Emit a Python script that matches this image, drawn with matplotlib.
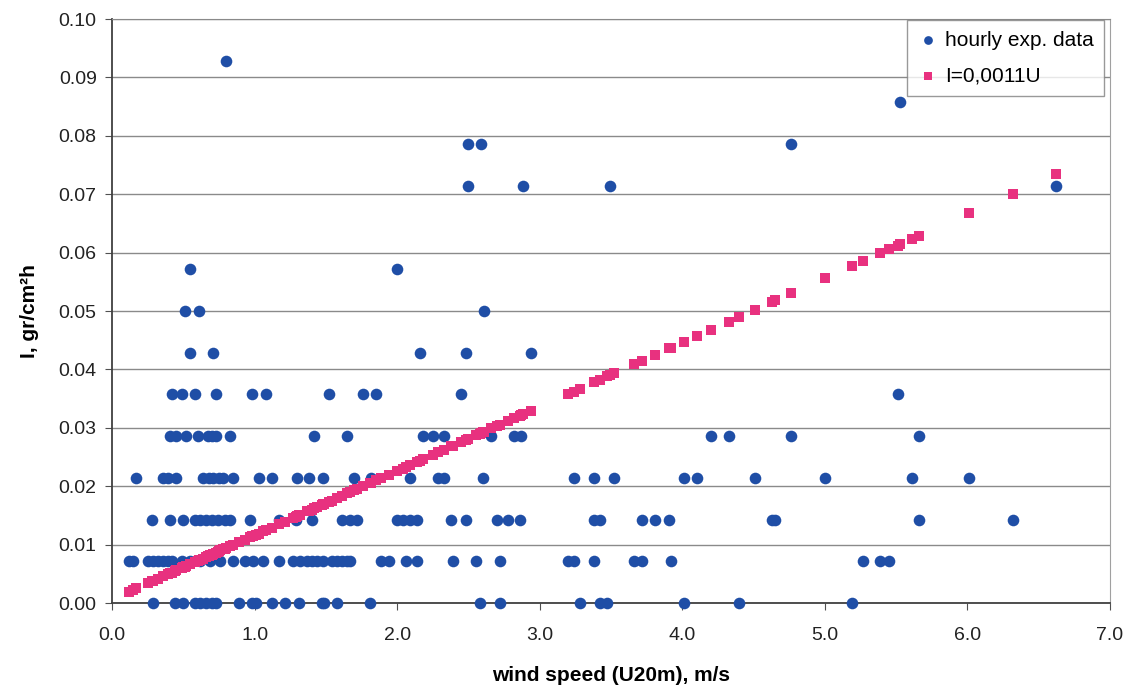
import matplotlib.pyplot as plt
from matplotlib.ticker import FormatStrFormatter, MultipleLocator

plt.rcParams['font.family'] = ['Liberation Sans', 'DejaVu Sans']

# hourly measured intensity levels (gr/cm2h) and the wind speeds observed at each level
levels = [0.0, 0.00714, 0.01429, 0.02143, 0.02857, 0.03571, 0.04286,
          0.05, 0.05714, 0.07143, 0.07857, 0.08571, 0.09286]
u_by_level = [
    [0.29, 0.44, 0.50, 0.58, 0.62, 0.66, 0.70, 0.73, 0.89, 0.98, 1.01, 1.12, 1.21,
     1.31, 1.47, 1.49, 1.58, 1.81, 2.58, 2.72, 3.28, 3.42, 3.47, 4.01, 4.40, 5.19],
    [0.12, 0.15, 0.25, 0.29, 0.32, 0.36, 0.39, 0.42, 0.49, 0.55, 0.62, 0.69, 0.76,
     0.85, 0.93, 0.99, 1.06, 1.17, 1.27, 1.32, 1.37, 1.40, 1.44, 1.48, 1.54, 1.58,
     1.61, 1.65, 1.67, 1.89, 1.94, 2.06, 2.14, 2.39, 2.55, 2.72, 3.20, 3.24, 3.38,
     3.66, 3.72, 3.92, 5.27, 5.39, 5.45],
    [0.28, 0.41, 0.50, 0.58, 0.62, 0.66, 0.70, 0.74, 0.79, 0.83, 0.97, 1.17, 1.29,
     1.40, 1.61, 1.67, 1.72, 2.00, 2.04, 2.09, 2.14, 2.38, 2.48, 2.70, 2.78, 2.86,
     3.38, 3.42, 3.72, 3.81, 3.91, 4.63, 4.65, 5.66, 6.32],
    [0.17, 0.36, 0.39, 0.45, 0.64, 0.68, 0.71, 0.75, 0.78, 0.85, 1.03, 1.12, 1.30,
     1.38, 1.48, 1.70, 1.82, 2.09, 2.29, 2.33, 2.60, 3.24, 3.38, 3.52, 4.01, 4.10,
     4.51, 5.00, 5.61, 6.01],
    [0.41, 0.45, 0.52, 0.60, 0.67, 0.70, 0.73, 0.83, 1.42, 1.65, 2.18, 2.25, 2.33,
     2.66, 2.82, 2.87, 4.20, 4.33, 4.76, 5.66],
    [0.42, 0.49, 0.58, 0.73, 0.98, 1.08, 1.52, 1.76, 1.85, 2.45, 5.51],
    [0.55, 0.71, 2.16, 2.48, 2.94],
    [0.51, 0.61, 2.61],
    [0.55, 2.00],
    [2.50, 2.88, 3.49, 6.62],
    [2.50, 2.59, 4.76],
    [5.53],
    [0.80],
]

# fitted values I=0,0011U (pink squares)
fit_u = [0.12, 0.15, 0.17, 0.25, 0.28, 0.29, 0.32, 0.36, 0.39, 0.41, 0.42, 0.44, 0.45,
         0.49, 0.50, 0.51, 0.52, 0.55, 0.58, 0.60, 0.61, 0.62, 0.64, 0.66, 0.67, 0.68,
         0.69, 0.70, 0.71, 0.73, 0.74, 0.75, 0.76, 0.78, 0.79, 0.80, 0.83, 0.85, 0.89,
         0.93, 0.97, 0.98, 0.99, 1.01, 1.03, 1.06, 1.08, 1.12, 1.17, 1.21, 1.27, 1.29,
         1.30, 1.31, 1.32, 1.37, 1.38, 1.40, 1.42, 1.44, 1.47, 1.48, 1.49, 1.52, 1.54,
         1.58, 1.61, 1.65, 1.67, 1.70, 1.72, 1.76, 1.81, 1.82, 1.85, 1.89, 1.94, 2.00,
         2.04, 2.06, 2.09, 2.14, 2.16, 2.18, 2.25, 2.29, 2.33, 2.38, 2.39, 2.45, 2.48,
         2.50, 2.55, 2.58, 2.59, 2.60, 2.61, 2.66, 2.70, 2.72, 2.78, 2.82, 2.86, 2.87,
         2.88, 2.94,
         3.20, 3.24, 3.28, 3.38, 3.42, 3.47, 3.49, 3.52, 3.66, 3.72, 3.81, 3.91, 3.92,
         4.01, 4.10, 4.20, 4.33, 4.40, 4.51, 4.63, 4.65, 4.76, 5.00, 5.19, 5.27, 5.39,
         5.45, 5.51, 5.53, 5.61, 5.66, 6.01, 6.32, 6.62]
fit_i = [0.0019, 0.0022, 0.0025, 0.0034, 0.0037, 0.0038, 0.0041, 0.0046, 0.0049, 0.0051,
         0.0052, 0.0054, 0.0056, 0.0060, 0.0061, 0.0062, 0.0063, 0.0067, 0.0070, 0.0072,
         0.0073, 0.0074, 0.0076, 0.0079, 0.0080, 0.0081, 0.0082, 0.0083, 0.0084, 0.0086,
         0.0087, 0.0089, 0.0090, 0.0092, 0.0093, 0.0094, 0.0097, 0.0100, 0.0104, 0.0108,
         0.0113, 0.0114, 0.0115, 0.0117, 0.0119, 0.0123, 0.0125, 0.0129, 0.0135, 0.0139,
         0.0146, 0.0148, 0.0149, 0.0150, 0.0151, 0.0157, 0.0158, 0.0160, 0.0162, 0.0164,
         0.0168, 0.0169, 0.0170, 0.0173, 0.0175, 0.0180, 0.0183, 0.0188, 0.0190, 0.0193,
         0.0195, 0.0200, 0.0205, 0.0206, 0.0210, 0.0214, 0.0219, 0.0226, 0.0230, 0.0233,
         0.0236, 0.0241, 0.0244, 0.0246, 0.0254, 0.0258, 0.0262, 0.0268, 0.0269, 0.0276,
         0.0279, 0.0281, 0.0287, 0.0290, 0.0291, 0.0292, 0.0293, 0.0299, 0.0303, 0.0305,
         0.0312, 0.0316, 0.0321, 0.0322, 0.0323, 0.0329,
         0.0358, 0.0362, 0.0367, 0.0378, 0.0382, 0.0388, 0.0390, 0.0393, 0.0409, 0.0415,
         0.0425, 0.0436, 0.0437, 0.0447, 0.0457, 0.0468, 0.0482, 0.0490, 0.0502, 0.0515,
         0.0518, 0.0530, 0.0556, 0.0577, 0.0586, 0.0599, 0.0606, 0.0612, 0.0614, 0.0623,
         0.0629, 0.0667, 0.0701, 0.0734]

blue = '#1f4ea6'
pink = '#e8317f'

hourly_u = []
hourly_i = []
for level, us in zip(levels, u_by_level):
    for u in us:
        hourly_u.append(u)
        hourly_i.append(level)

fig = plt.figure(figsize=(11.32, 6.92), dpi=100)
ax = fig.add_axes([112 / 1132, 1 - 603 / 692, 998 / 1132, 584 / 692])

ax.scatter(hourly_u, hourly_i, s=70, color=blue, marker='o', linewidths=0,
           label='hourly exp. data', zorder=3, clip_on=False)
ax.scatter(fit_u, fit_i, s=60, color=pink, marker='s', linewidths=0,
           label='I=0,0011U', zorder=4, clip_on=False)

ax.set_xlim(0, 7)
ax.set_ylim(0, 0.10)
ax.xaxis.set_major_locator(MultipleLocator(1.0))
ax.yaxis.set_major_locator(MultipleLocator(0.01))
ax.xaxis.set_major_formatter(FormatStrFormatter('%.1f'))
ax.yaxis.set_major_formatter(FormatStrFormatter('%.2f'))

ax.grid(axis='y', color='#8a8a8a', linewidth=1.0, zorder=0)
ax.set_axisbelow(True)
for side in ['left', 'bottom']:
    ax.spines[side].set_color('#404040')
    ax.spines[side].set_linewidth(1.3)
ax.spines['top'].set_color('#8a8a8a')
ax.spines['right'].set_color('#a0a0a0')

ax.tick_params(axis='both', direction='out', length=5, color='#505050',
               labelsize=14, labelcolor='#222222')
ax.tick_params(axis='x', pad=12)
ax.tick_params(axis='y', pad=6)

ax.set_xlabel('wind speed (U20m), m/s', fontsize=15, fontweight='bold', labelpad=16)
ax.set_ylabel('I, gr/cm²h', fontsize=15, fontweight='bold', labelpad=14)

leg = ax.legend(loc='upper right', bbox_to_anchor=(0.994, 0.998), borderaxespad=0,
                fontsize=15, frameon=True, fancybox=False, edgecolor='#808080',
                markerscale=0.75, handletextpad=0.3, borderpad=0.5,
                labelspacing=0.8, handlelength=1.0)
leg.get_frame().set_linewidth(1.0)

plt.savefig('out.png', dpi=100)
